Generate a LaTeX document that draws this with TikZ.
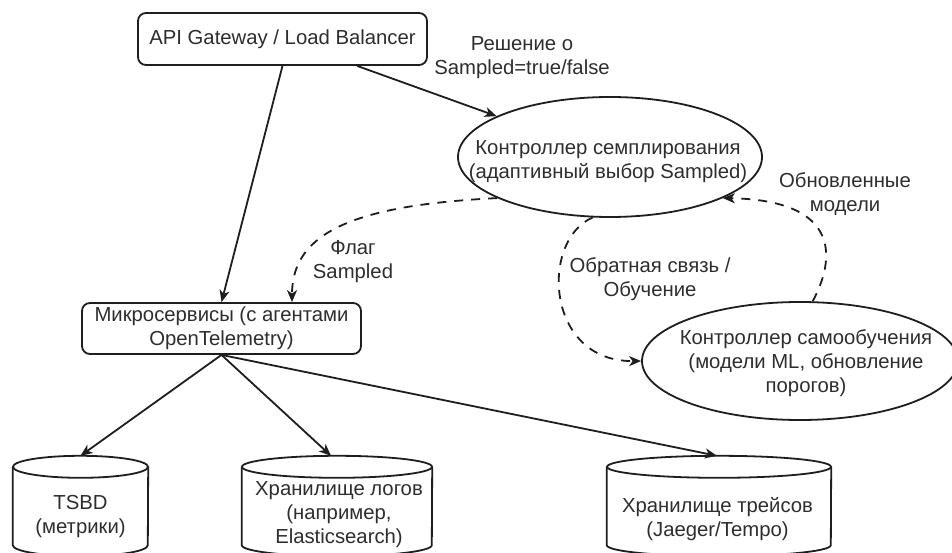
\documentclass[tikz,border=0pt]{standalone}
\usepackage{fontspec}
\setmainfont{Liberation Sans}
\usetikzlibrary{arrows.meta,shapes.geometric}
\definecolor{ink}{HTML}{1E1E1E}
\definecolor{txt}{HTML}{2E2E2E}
\begin{document}
\begin{tikzpicture}[x=1pt,y=-1pt,
  every node/.style={font=\fontsize{20.3}{24}\selectfont, text=txt, inner sep=0pt, align=center},
  line/.style={draw=ink, line width=1.8pt},
  box/.style={line, rounded corners=8pt, rectangle},
  oval/.style={line, ellipse},
  cylbox/.style={rectangle},
  arr/.style={line, -{Stealth[length=12pt,width=10pt,inset=3.5pt]}},
  darr/.style={arr, dash pattern=on 9pt off 8pt}
]
\useasboundingbox (0,0) rectangle (952,553);
\clip (0,0) rectangle (952,553);
\fill[white] (0,0) rectangle (952,553);

% nodes
\node[box, minimum width=289pt, minimum height=52pt] (api) at (282.5,39) {API Gateway / Load Balancer};
\node[box, minimum width=279pt, minimum height=51pt] (micro) at (221.5,328.5) {Микросервисы (с агентами\\OpenTelemetry)};
\node[oval, minimum width=304pt, minimum height=120pt] (samp) at (610,157) {};
\node (samptext) at (608,161.5) {Контроллер семплирования\\(адаптивный выбор Sampled)};
\node[oval, minimum width=316pt, minimum height=118pt] (learn) at (800,361) {};
\node (learntext) at (806,363) {Контроллер самообучения\\(модели ML, обновление\\порогов)};

% cylinders
\node[cylbox, minimum width=135pt, minimum height=100pt] (tsbd) at (80.5,506) {};
\node[cylbox, minimum width=190pt, minimum height=100pt] (logs) at (337,506) {};
\node[cylbox, minimum width=224pt, minimum height=100pt] (traces) at (719,506) {};
\node (tsbdtext) at (80.5,517) {TSBD\\(метрики)};
\node (logstext) at (339,514.5) {Хранилище логов\\(например,\\Elasticsearch)};
\node (tracestext) at (717.5,519.5) {Хранилище трейсов\\(Jaeger/Tempo)};

\draw[line] ([yshift=-11pt]tsbd.north) ellipse [x radius=67.5pt, y radius=11pt];
\draw[line] ([yshift=-11pt]tsbd.north west) -- ([yshift=11pt]tsbd.south west)
  arc[start angle=180, end angle=360, x radius=67.5pt, y radius=11pt] -- ([yshift=-11pt]tsbd.north east);
\draw[line] ([yshift=-11pt]logs.north) ellipse [x radius=95pt, y radius=11pt];
\draw[line] ([yshift=-11pt]logs.north west) -- ([yshift=11pt]logs.south west)
  arc[start angle=180, end angle=360, x radius=95pt, y radius=11pt] -- ([yshift=-11pt]logs.north east);
\draw[line] ([yshift=-11pt]traces.north) ellipse [x radius=112pt, y radius=11pt];
\draw[line] ([yshift=-11pt]traces.north west) -- ([yshift=11pt]traces.south west)
  arc[start angle=180, end angle=360, x radius=112pt, y radius=11pt] -- ([yshift=-11pt]traces.north east);

% labels
\node (lblsamp) at (522,57.5) {Решение о\\Sampled=true/false};
\node (lblflag) at (353,262) {Флаг\\Sampled};
\node (lblupd) at (845,194.5) {Обновленные\\модели};
\node (lblfb) at (650,279) {Обратная связь /\\Обучение};

% connectors
\draw[arr] (api) -- (samp);
\draw[arr] (api.south) -- (micro.north);
\draw[darr] (samp.200) .. controls (360,205) and (292,230) .. ([xshift=70.5pt]micro.north);
\draw[darr] (learn.78) .. controls (840,250) and (832,200) .. (samp.340);
\draw[darr] (samp.254) .. controls (540,240) and (545,362) .. (learn.180);
\draw[arr] (micro.south) -- (tsbd.north);
\draw[arr] (micro.south) -- ([xshift=-6pt]logs.north);
\draw[arr] (micro.south) -- ([xshift=-2pt]traces.north);
\end{tikzpicture}
\end{document}
